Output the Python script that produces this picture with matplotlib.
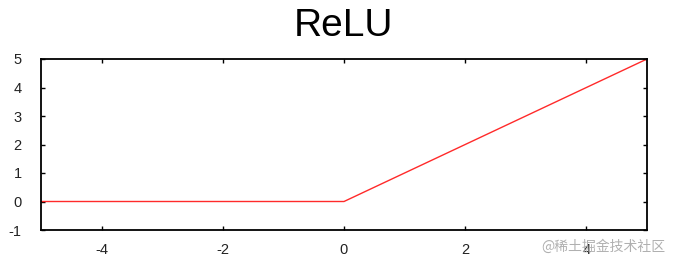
import matplotlib
matplotlib.use("Agg")
import matplotlib.pyplot as plt

# ReLU curve
x_vals = [-5, 0, 5]
y_vals = [0, 0, 5]
x_ticks = [-4, -2, 0, 2, 4]
y_ticks = [-1, 0, 1, 2, 3, 4, 5]

plt.rcParams['font.family'] = ['Liberation Sans', 'DejaVu Sans']
plt.rcParams['axes.unicode_minus'] = False

fig = plt.figure(figsize=(6.76, 2.70), dpi=100)
ax = fig.add_axes([41 / 676, 40 / 270, 606 / 676, 171 / 270])

ax.plot(x_vals, y_vals, color='#ff2a2a', lw=1.0)
ax.set_xlim(-5, 5)
ax.set_ylim(-1, 5)
ax.set_xticks(x_ticks)
ax.set_yticks(y_ticks)
ax.tick_params(direction='in', length=3, width=1, top=True, right=True,
               labelsize=10.5, labelcolor='#222222')
ax.tick_params(axis='x', pad=9)
ax.tick_params(axis='y', pad=14)
for s in ax.spines.values():
    s.set_linewidth(1.3)

fig.text(0.508, 0.902, 'ReLU', ha='center', va='center', fontsize=28)
fig.text(0.985, 0.085, '@稀土掘金技术社区', ha='right', va='center', fontsize=10,
         color='#b0b0b0', family=['Noto Sans CJK SC', 'DejaVu Sans'])

fig.savefig('out.png', dpi=100)
plt.close(fig)
